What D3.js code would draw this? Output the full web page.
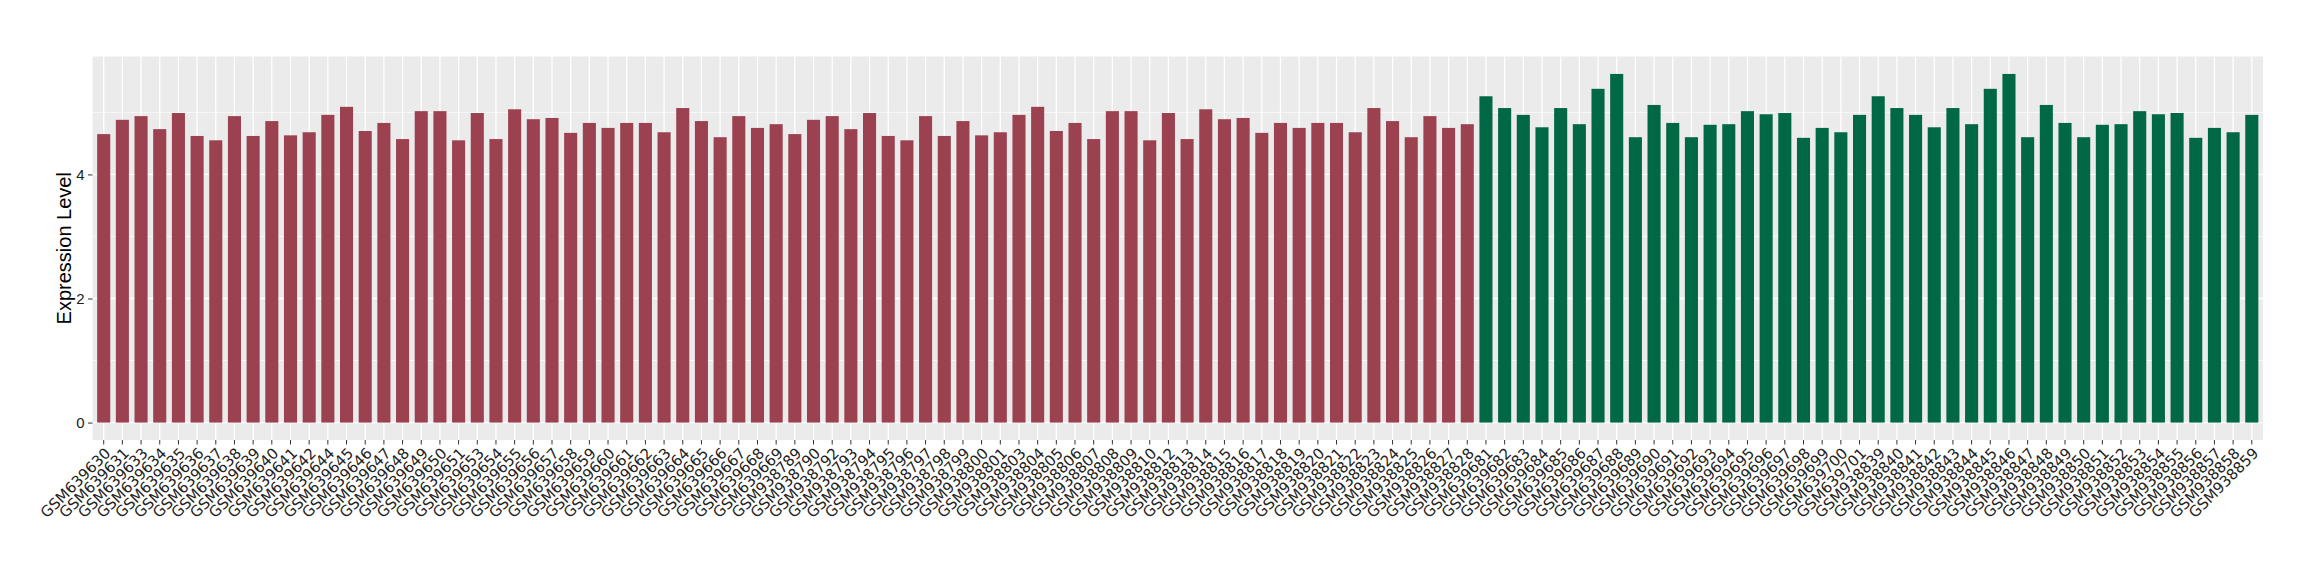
<!DOCTYPE html>
<meta charset="utf-8">
<style>
  body { margin: 0; background: #fff; }

  .panel { fill: #ebebeb; }

  .grid-major { stroke: #fff; stroke-width: 1.3px; }
  .grid-minor { stroke: #fff; stroke-width: 0.65px; }

  .axis .domain { display: none; }
  .axis line { stroke: #333; }

  .y-axis text {
    font: 15px "Liberation Sans", Arial, sans-serif;
    fill: #222;
  }

  .x-label {
    font: 15px "DejaVu Sans", sans-serif;
    fill: #222;
  }

  .y-title {
    font: 20px "Liberation Sans", Arial, sans-serif;
    fill: #000;
  }
</style>

<body>

  <script src="https://d3js.org/d3.v7.min.js"></script>
  <script>

    // sample ids, left (red) group then right (green) group
    var samples = [
      "GSM639630", "GSM639631", "GSM639633", "GSM639634", "GSM639635", "GSM639636", "GSM639637", "GSM639638",
      "GSM639639", "GSM639640", "GSM639641", "GSM639642", "GSM639644", "GSM639645", "GSM639646", "GSM639647",
      "GSM639648", "GSM639649", "GSM639650", "GSM639651", "GSM639653", "GSM639654", "GSM639655", "GSM639656",
      "GSM639657", "GSM639658", "GSM639659", "GSM639660", "GSM639661", "GSM639662", "GSM639663", "GSM639664",
      "GSM639665", "GSM639666", "GSM639667", "GSM639668", "GSM639669",
      "GSM938789", "GSM938790", "GSM938792", "GSM938793", "GSM938794", "GSM938795", "GSM938796", "GSM938797",
      "GSM938798", "GSM938799", "GSM938800", "GSM938801", "GSM938803", "GSM938804", "GSM938805", "GSM938806",
      "GSM938807", "GSM938808", "GSM938809", "GSM938810", "GSM938812", "GSM938813", "GSM938814", "GSM938815",
      "GSM938816", "GSM938817", "GSM938818", "GSM938819", "GSM938820", "GSM938821", "GSM938822", "GSM938823",
      "GSM938824", "GSM938825", "GSM938826", "GSM938827", "GSM938828",
      "GSM639681", "GSM639682", "GSM639683", "GSM639684", "GSM639685", "GSM639686", "GSM639687", "GSM639688",
      "GSM639689", "GSM639690", "GSM639691", "GSM639692", "GSM639693", "GSM639694", "GSM639695", "GSM639696",
      "GSM639697", "GSM639698", "GSM639699", "GSM639700", "GSM639701",
      "GSM938839", "GSM938840", "GSM938841", "GSM938842", "GSM938843", "GSM938844", "GSM938845", "GSM938846",
      "GSM938847", "GSM938848", "GSM938849", "GSM938850", "GSM938851", "GSM938852", "GSM938853", "GSM938854",
      "GSM938855", "GSM938856", "GSM938857", "GSM938858", "GSM938859"
    ];

    // expression level per sample
    var values = [
      4.65, 4.88, 4.94, 4.73, 4.99, 4.62, 4.55, 4.94, 4.62, 4.86, 4.63, 4.68, 4.96, 5.09, 4.70, 4.83,
      4.57, 5.02, 5.02, 4.55, 4.99, 4.57, 5.05, 4.89, 4.91, 4.67, 4.83, 4.75, 4.83, 4.83, 4.68, 5.07,
      4.86, 4.60, 4.94, 4.75, 4.81,
      4.65, 4.88, 4.94, 4.73, 4.99, 4.62, 4.55, 4.94, 4.62, 4.86, 4.63, 4.68, 4.96, 5.09, 4.70, 4.83,
      4.57, 5.02, 5.02, 4.55, 4.99, 4.57, 5.05, 4.89, 4.91, 4.67, 4.83, 4.75, 4.83, 4.83, 4.68, 5.07,
      4.86, 4.60, 4.94, 4.75, 4.81,
      5.26, 5.07, 4.96, 4.76, 5.07, 4.81, 5.38, 5.62, 4.60, 5.12, 4.83, 4.60, 4.80, 4.81, 5.02, 4.97,
      4.99, 4.59, 4.75, 4.68, 4.96,
      5.26, 5.07, 4.96, 4.76, 5.07, 4.81, 5.38, 5.62, 4.60, 5.12, 4.83, 4.60, 4.80, 4.81, 5.02, 4.97,
      4.99, 4.59, 4.75, 4.68, 4.96
    ];

    // group of each sample: 74 in the first, 42 in the second
    var groupSizes = [74, 42];
    var groupColors = ["#9b4150", "#006844"];

    var yTicks = [0, 2, 4];
    var yMinor = [1, 3, 5];

    var data = samples.map(function (s, i) {
      return { name: s, value: values[i], group: i < groupSizes[0] ? 0 : 1 };
    });

    // panel position inside the 2320x580 page
    var margin = { top: 56.5, right: 57, bottom: 140, left: 92.5 },
      width = 2320 - margin.left - margin.right,
      height = 580 - margin.top - margin.bottom;

    var svg = d3.select("body").append("svg")
      .attr("width", 2320)
      .attr("height", 580);

    var g = svg.append("g")
      .attr("transform", "translate(" + margin.left + "," + margin.top + ")");

    // discrete x scale, bars 0.7 wide like ggplot
    var x = d3.scaleBand()
      .domain(samples)
      .range([0, width])
      .paddingInner(0.3)
      .paddingOuter(0.25);

    var maxV = d3.max(values);
    var y = d3.scaleLinear()
      .domain([-0.05 * maxV, 1.05 * maxV])
      .range([height, 0]);

    // grey panel
    g.append("rect")
      .attr("class", "panel")
      .attr("width", width)
      .attr("height", height);

    // grid lines
    g.selectAll(".grid-minor")
      .data(yMinor)
      .enter().append("line")
      .attr("class", "grid-minor")
      .attr("x1", 0).attr("x2", width)
      .attr("y1", function (d) { return y(d); })
      .attr("y2", function (d) { return y(d); });

    g.selectAll(".grid-major.h")
      .data(yTicks)
      .enter().append("line")
      .attr("class", "grid-major h")
      .attr("x1", 0).attr("x2", width)
      .attr("y1", function (d) { return y(d); })
      .attr("y2", function (d) { return y(d); });

    g.selectAll(".grid-major.v")
      .data(samples)
      .enter().append("line")
      .attr("class", "grid-major v")
      .attr("y1", 0).attr("y2", height)
      .attr("x1", function (d) { return x(d) + x.bandwidth() / 2; })
      .attr("x2", function (d) { return x(d) + x.bandwidth() / 2; });

    // bars
    g.selectAll(".bar")
      .data(data)
      .enter().append("rect")
      .attr("class", "bar")
      .attr("x", function (d) { return x(d.name); })
      .attr("width", x.bandwidth())
      .attr("y", function (d) { return y(d.value); })
      .attr("height", function (d) { return y(0) - y(d.value); })
      .attr("fill", function (d) { return groupColors[d.group]; });

    // y axis
    g.append("g")
      .attr("class", "axis y-axis")
      .call(d3.axisLeft(y).tickValues(yTicks).tickSize(4.5).tickPadding(3.5).tickFormat(d3.format("d")));

    // x axis ticks, labels drawn separately at 45 degrees
    var xAxis = g.append("g")
      .attr("class", "axis x-axis")
      .attr("transform", "translate(0," + height + ")")
      .call(d3.axisBottom(x).tickSize(4.5).tickFormat(""));

    g.selectAll(".x-label")
      .data(samples)
      .enter().append("text")
      .attr("class", "x-label")
      .attr("transform", function (d) {
        return "translate(" + (x(d) + x.bandwidth() / 2) + "," + (height + 6.5) + ") rotate(-45)";
      })
      .attr("dy", "0.73em")
      .style("text-anchor", "end")
      .text(function (d) { return d; });

    // y axis title
    svg.append("text")
      .attr("class", "y-title")
      .attr("transform", "translate(71," + (margin.top + height / 2) + ") rotate(-90)")
      .style("text-anchor", "middle")
      .text("Expression Level");

  </script>
</body>
